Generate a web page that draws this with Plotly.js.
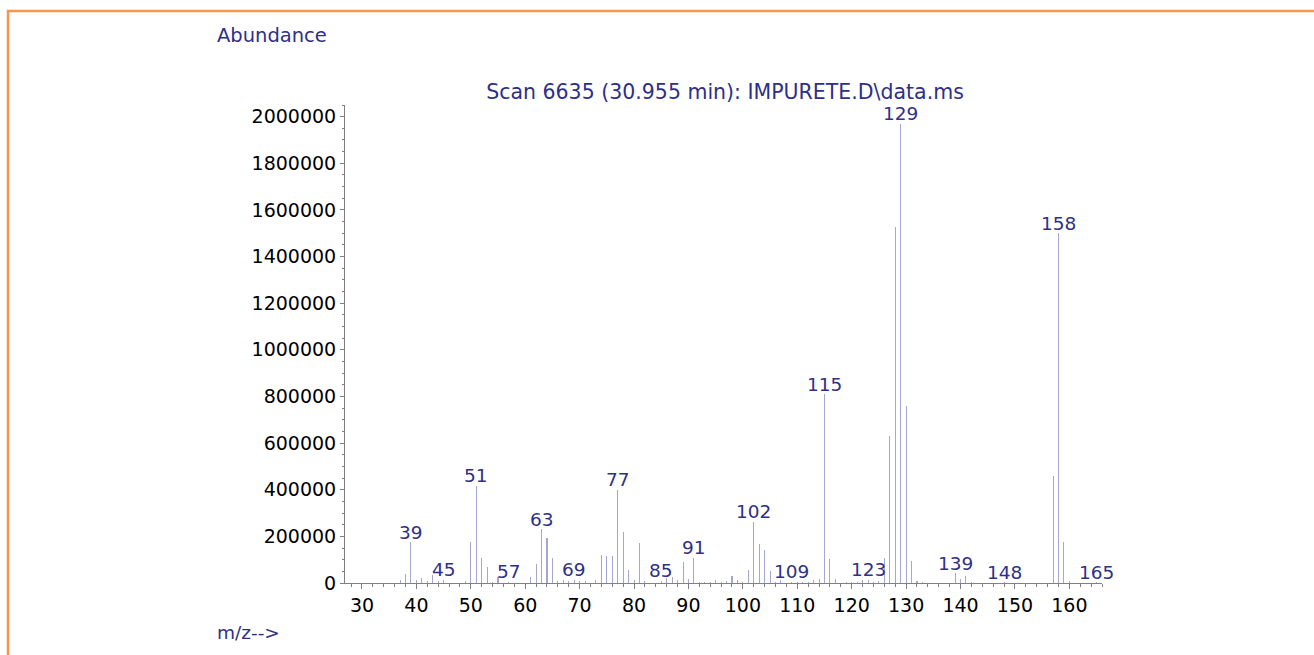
<!DOCTYPE html>
<html>
<head>
<meta charset="utf-8">
<script src="https://cdn.plot.ly/plotly-3.0.1.min.js"></script>
<style>
  html, body { margin: 0; padding: 0; background: #ffffff; }
  #chart { width: 1314px; height: 655px; }
</style>
</head>
<body>
<div id="chart"></div>
<script>
// m/z values of the spectrum lines
const mz = [37, 38, 39, 40, 41, 42, 43, 44, 45, 49, 50, 51, 52, 53, 54, 55, 57,
  61, 62, 63, 64, 65, 66, 67, 68, 69, 70, 71, 73, 74, 75, 76, 77, 78, 79, 80,
  81, 82, 85, 86, 87, 88, 89, 90, 91, 92, 93, 94, 95, 96, 97, 98, 99, 100,
  101, 102, 103, 104, 105, 106, 107, 109, 110, 111, 112, 113, 114, 115, 116, 117,
  119, 120, 121, 122, 123, 124, 125, 126, 127, 128, 129, 130, 131, 132, 133,
  139, 140, 141, 142, 148, 157, 158, 159, 160, 165];

// abundance for each m/z
const abundance = [11000, 40000, 174000, 13000, 23000, 8500, 34000, 8500, 14000, 8500, 176000, 417000, 107000, 70000, 5700, 24000, 5700,
  26000, 83000, 230000, 194000, 108500, 7000, 14000, 8500, 14000, 10000, 10000, 14000, 121000, 116000, 114000, 400000, 217000, 54000, 11000,
  171000, 10000, 10000, 23000, 26000, 11000, 91000, 17000, 109000, 5700, 4000, 6000, 13000, 6000, 10000, 31000, 13000, 5000,
  56000, 262000, 166000, 140000, 53000, 5000, 14000, 5000, 5000, 4000, 5000, 13000, 17000, 810000, 104000, 18500,
  5000, 4000, 5000, 11000, 14000, 4000, 10000, 108500, 631000, 1525000, 1970000, 760000, 96000, 10000, 3500,
  41000, 17000, 29000, 4000, 3000, 461000, 1500000, 176000, 10000, 3000];

// peaks that carry a label
const labelledPeaks = [39, 45, 51, 57, 63, 69, 77, 85, 91, 102, 109, 115, 123, 129, 139, 148, 158, 165];

// axis ticks
const xTicks = [30, 40, 50, 60, 70, 80, 90, 100, 110, 120, 130, 140, 150, 160];
const yTicks = [0, 200000, 400000, 600000, 800000, 1000000, 1200000, 1400000, 1600000, 1800000, 2000000];

// texts
const titleText = 'Scan 6635 (30.955 min): IMPURETE.D\\data.ms';
const yLabelText = 'Abundance';
const xLabelText = 'm/z-->';

const NAVY = '#2e3088';
const BAR = '#a6a6d4';
const ORANGE = '#f7964a';
const FONT = 'DejaVu Sans, Liberation Sans, Arial, sans-serif';

const peakAnnotations = labelledPeaks.map(function (m) {
  const i = mz.indexOf(m);
  return {
    x: m, y: abundance[i], xref: 'x', yref: 'y',
    text: String(m), showarrow: false,
    xanchor: 'center', yanchor: 'middle', yshift: 10,
    font: { family: FONT, size: 18.5, color: NAVY }
  };
});

const data = [{
  type: 'bar',
  x: mz,
  y: abundance,
  width: 0.19,
  marker: { color: BAR, line: { width: 0 } },
  hoverinfo: 'x+y'
}];

const layout = {
  width: 1314,
  height: 655,
  margin: { l: 345, r: 212, t: 105, b: 72 },
  paper_bgcolor: '#ffffff',
  plot_bgcolor: '#ffffff',
  showlegend: false,
  bargap: 0,
  title: {
    text: titleText,
    font: { family: FONT, size: 20.5, color: NAVY },
    xref: 'container', yref: 'container',
    x: 725 / 1314, xanchor: 'center',
    y: 1 - 92 / 655, yanchor: 'middle'
  },
  xaxis: {
    range: [26.88, 166.0],
    tickvals: xTicks,
    ticktext: xTicks.map(String),
    ticks: 'outside',
    ticklen: 5,
    tickwidth: 1,
    tickcolor: '#808080',
    showline: true,
    linecolor: '#808080',
    linewidth: 1,
    showgrid: false,
    zeroline: false,
    tickfont: { family: FONT, size: 19, color: '#000000' },
    minor: { dtick: 2, tick0: 0, ticks: 'outside', ticklen: 3, tickcolor: '#808080', showgrid: false }
  },
  yaxis: {
    range: [0, 2050000],
    tickvals: yTicks,
    ticktext: yTicks.map(String),
    ticks: 'outside',
    ticklen: 4,
    tickwidth: 1,
    tickcolor: '#808080',
    showline: true,
    linecolor: '#808080',
    linewidth: 1,
    showgrid: false,
    zeroline: false,
    tickfont: { family: FONT, size: 19, color: '#000000' },
    minor: { dtick: 50000, tick0: 0, ticks: 'outside', ticklen: 2, tickcolor: '#808080', showgrid: false }
  },
  annotations: peakAnnotations.concat([
    {
      xref: 'paper', yref: 'paper',
      x: (215 - 345) / 757, y: (583.3 - 35) / 478.3,
      xanchor: 'left', yanchor: 'middle',
      text: yLabelText, showarrow: false,
      font: { family: FONT, size: 19.5, color: NAVY }
    },
    {
      xref: 'paper', yref: 'paper',
      x: (215 - 345) / 757, y: (583.3 - 633) / 478.3,
      xanchor: 'left', yanchor: 'middle',
      text: xLabelText, showarrow: false,
      font: { family: FONT, size: 18.5, color: NAVY }
    }
  ]),
  shapes: [{
    type: 'path',
    xref: 'paper', yref: 'paper',
    path: 'M ' + ((8 - 345) / 757) + ' ' + ((583.3 - 700) / 478.3) +
          ' L ' + ((8 - 345) / 757) + ' ' + ((583.3 - 11) / 478.3) +
          ' L ' + ((1320 - 345) / 757) + ' ' + ((583.3 - 11) / 478.3),
    line: { color: ORANGE, width: 2.5 }
  }]
};

Plotly.newPlot('chart', data, layout, { displayModeBar: false, staticPlot: true });
</script>
</body>
</html>
